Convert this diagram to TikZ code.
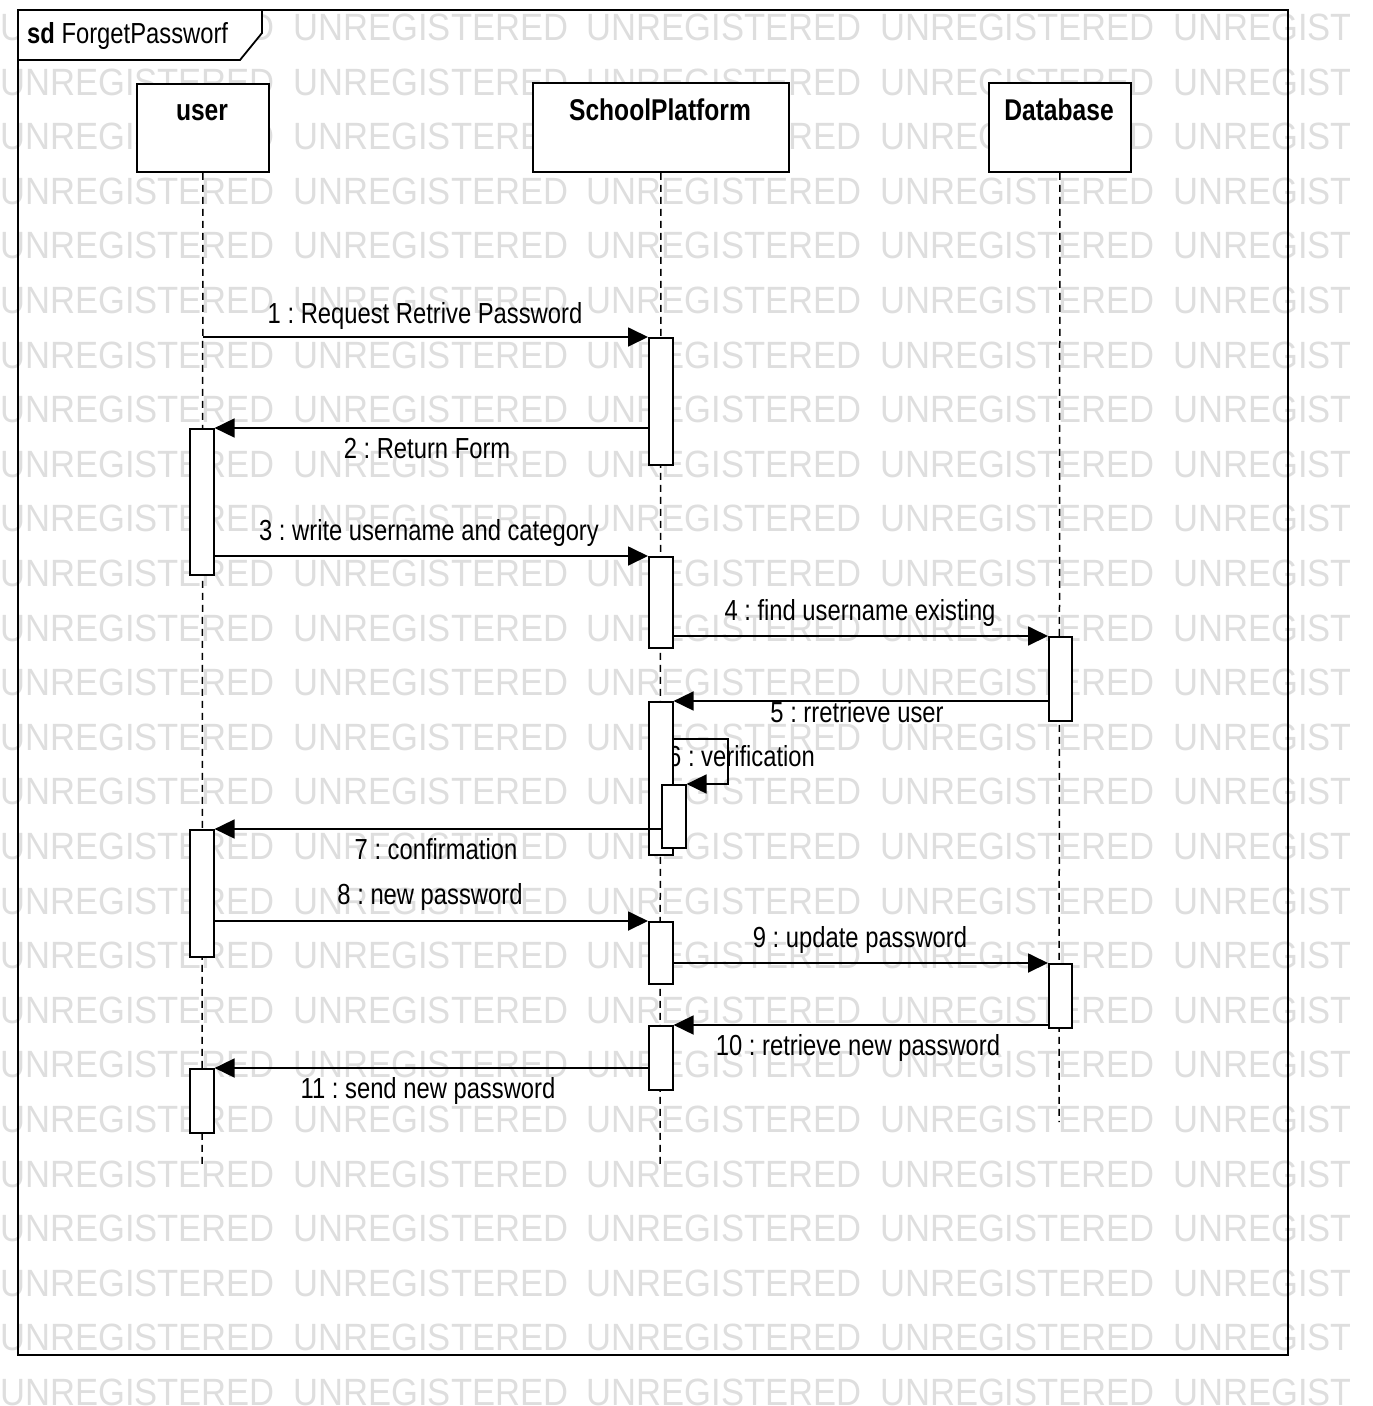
\documentclass[tikz,border=0pt]{standalone}
\usepackage{fontspec}
\setmainfont{Liberation Sans}[FakeStretch=0.82]
\newfontfamily\wmfont{Liberation Sans}[FakeStretch=0.91]
\usetikzlibrary{arrows.meta}
\definecolor{wmgray}{RGB}{222,222,222}
\frenchspacing
\tikzset{
  lbl/.style={anchor=base, inner sep=0pt, font=\fontsize{29}{34}\selectfont},
  headbox/.style={draw, fill=white, line width=1.8pt, inner sep=0pt, anchor=north west},
  headtxt/.style={anchor=base, inner sep=0pt, font=\fontsize{30}{35}\selectfont\bfseries},
  lifeline/.style={line width=1.5pt, dash pattern=on 7pt off 5pt},
  act/.style={draw, fill=white, line width=1.6pt, inner sep=0pt, minimum width=24pt, anchor=north west},
  msg/.style={line width=1.8pt, -{Triangle[length=20pt,width=19pt]}},
  wm/.style={anchor=base west, inner sep=0pt, text=wmgray, font=\wmfont\fontsize{38}{40}\selectfont}
}
\begin{document}
\begin{tikzpicture}[x=1pt,y=-1pt]
\useasboundingbox (0,0) rectangle (1373,1406);
% watermark
\begin{scope}
\clip (0,0) rectangle (1349,1406);
\foreach \r in {0,...,25}{
  \foreach \c in {0,...,4}{
    \node[wm] at ({293.3*\c},{40.5+54.6*\r}) {UNREGISTERED};
  }
}
\end{scope}
% frame
\draw[line width=1.8pt] (18,10) rectangle (1288,1355);
\draw[line width=1.8pt, fill=white] (18,10) -- (262,10) -- (262,33) -- (240,60) -- (18,60) -- cycle;
\node[anchor=base west, inner sep=0pt, font=\fontsize{29}{34}\selectfont] (title) at (27,43) {\textbf{sd} ForgetPassworf};
% heads
\node[headbox, minimum width=132pt, minimum height=88pt] (uhead) at (136,83) {};
\node[headbox, minimum width=256pt, minimum height=89pt] (shead) at (532,82) {};
\node[headbox, minimum width=142pt, minimum height=89pt] (dhead) at (988,82) {};
\node[headtxt] (uname) at (202,120) {user};
\node[headtxt] (sname) at (660,120) {SchoolPlatform};
\node[headtxt] (dname) at (1059,120) {Database};
% lifelines
\coordinate (uend) at (202,1165);
\coordinate (send) at (660,1165);
\coordinate (dend) at (1059,1122);
\draw[lifeline] (uhead.south) -- (uend);
\draw[lifeline] (shead.south) -- (send);
\draw[lifeline] (dhead.south) -- (dend);
% label 6 (under activations)
\node[lbl, anchor=base west] (l6) at (668,766) {6 : verification};
% activations
\node[act, minimum height=146pt] (ua1) at (189,428) {};
\node[act, minimum height=127pt] (ua2) at (189,829) {};
\node[act, minimum height=64pt] (ua3) at (189,1068) {};
\node[act, minimum height=127pt] (sp1) at (648,337) {};
\node[act, minimum height=91pt] (sp2) at (648,556) {};
\node[act, minimum height=153pt] (sp3) at (648,701) {};
\node[act, minimum height=63pt] (spn) at (661,784) {};
\node[act, minimum height=62pt] (sp4) at (648,921) {};
\node[act, minimum height=64pt] (sp5) at (648,1025) {};
\node[act, minimum height=84pt, minimum width=23pt] (db1) at (1048,636) {};
\node[act, minimum height=64pt, minimum width=23pt] (db2) at (1048,963) {};
% messages
\draw[msg] (uhead.south |- sp1.north west) -- (sp1.north west);
\draw[msg] (sp1.west |- ua1.north) -- (ua1.north east);
\draw[msg] (ua1.east |- sp2.north) -- (sp2.north west);
\draw[msg] (sp2.east |- db1.north) -- (db1.north west);
\draw[msg] (db1.west |- sp3.north) -- (sp3.north east);
\coordinate (loopc) at (728,739);
\draw[msg] (sp3.east |- loopc) -- (loopc) |- (spn.north east);
\draw[msg] (spn.west |- ua2.north) -- (ua2.north east);
\draw[msg] (ua2.east |- sp4.north) -- (sp4.north west);
\draw[msg] (sp4.east |- db2.north) -- (db2.north west);
\draw[msg] (db2.west |- sp5.north) -- (sp5.north east);
\draw[msg] (sp5.west |- ua3.north) -- (ua3.north east);
% labels
\node[lbl] (l1) at (425,323) {1 : Request Retrive Password};
\node[lbl] (l2) at (427,458) {2 : Return Form};
\node[lbl] (l3) at (429,540) {3 : write username and category};
\node[lbl] (l4) at (860,620) {4 : find username existing};
\node[lbl] (l5) at (857,722) {5 : rretrieve user};
\node[lbl] (l7) at (436,859) {7 : confirmation};
\node[lbl] (l8) at (430,904) {8 : new password};
\node[lbl] (l9) at (860,947) {9 : update password};
\node[lbl] (l10) at (858,1055) {10 : retrieve new password};
\node[lbl] (l11) at (428,1098) {11 : send new password};
\end{tikzpicture}
\end{document}
